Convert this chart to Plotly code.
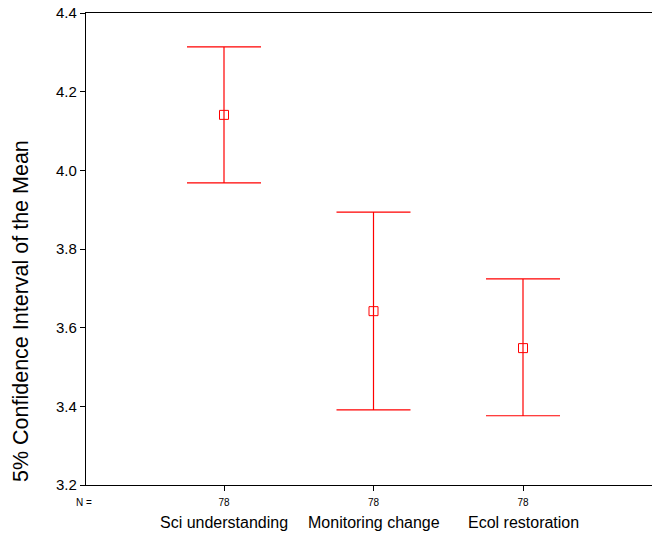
import plotly.graph_objects as go

categories = ["Sci understanding", "Monitoring change", "Ecol restoration"]
n_values = [78, 78, 78]
means = [4.141, 3.642, 3.548]
upper = [4.314, 3.894, 3.724]
lower = [3.968, 3.391, 3.376]
y_ticks = [3.2, 3.4, 3.6, 3.8, 4.0, 4.2, 4.4]

x_pos = list(range(len(categories)))
err_plus = [u - m for u, m in zip(upper, means)]
err_minus = [m - l for m, l in zip(means, lower)]

W, H = 652, 534
ml, mr, mt, mb = 86, 0, 13, 49
plot_w = W - ml - mr
plot_h = H - mt - mb
px_per_unit = 149.5
x0 = -138 / px_per_unit
x1 = x0 + plot_w / px_per_unit

fig = go.Figure()
fig.add_trace(go.Scatter(
    x=x_pos, y=means, mode="markers",
    marker=dict(symbol="square-open", size=9, color="#ff0000", line=dict(width=1, color="#ff0000")),
    error_y=dict(type="data", symmetric=False, array=err_plus, arrayminus=err_minus,
                 color="#ff0000", thickness=1.2, width=37),
    showlegend=False, hoverinfo="skip",
))

font_family = "Liberation Sans, Arial, sans-serif"

fig.update_layout(
    width=W, height=H,
    margin=dict(l=ml, r=mr, t=mt, b=mb),
    paper_bgcolor="white", plot_bgcolor="white",
    font=dict(family=font_family, color="#000000"),
    xaxis=dict(
        range=[x0, x1], tickvals=x_pos, ticktext=[str(n) for n in n_values],
        showline=True, linecolor="#000000", linewidth=1.3, mirror=True,
        ticks="outside", ticklen=5, tickcolor="#000000", tickwidth=1,
        tickfont=dict(size=10, family=font_family), showgrid=False, zeroline=False,
        ticklabelstandoff=3,
    ),
    yaxis=dict(
        range=[3.2, 4.4], tickvals=y_ticks, ticktext=[f"{v:.1f}" for v in y_ticks],
        showline=True, linecolor="#000000", linewidth=1.3,
        ticks="outside", ticklen=5, tickcolor="#000000", tickwidth=1,
        tickfont=dict(size=15, family=font_family), showgrid=False, zeroline=False,
    ),
)

for xi, cat in zip(x_pos, categories):
    fig.add_annotation(
        x=xi, y=(H - mb - 522) / plot_h, xref="x", yref="paper", text=cat, showarrow=False,
        font=dict(size=16, family=font_family, color="#000000"),
        xanchor="center", yanchor="middle",
    )

fig.add_annotation(
    x=(83.5 - ml) / plot_w, y=(H - mb - 502) / plot_h, xref="paper", yref="paper",
    text="N =", showarrow=False, font=dict(size=10, family=font_family, color="#000000"),
    xanchor="center", yanchor="middle",
)
fig.add_annotation(
    x=(21 - ml) / plot_w, y=(H - mb - 311) / plot_h, xref="paper", yref="paper",
    text="5% Confidence Interval of the Mean", showarrow=False, textangle=-90,
    font=dict(size=21.5, family=font_family, color="#000000"),
    xanchor="center", yanchor="middle",
)

fig.write_html("out.html")
